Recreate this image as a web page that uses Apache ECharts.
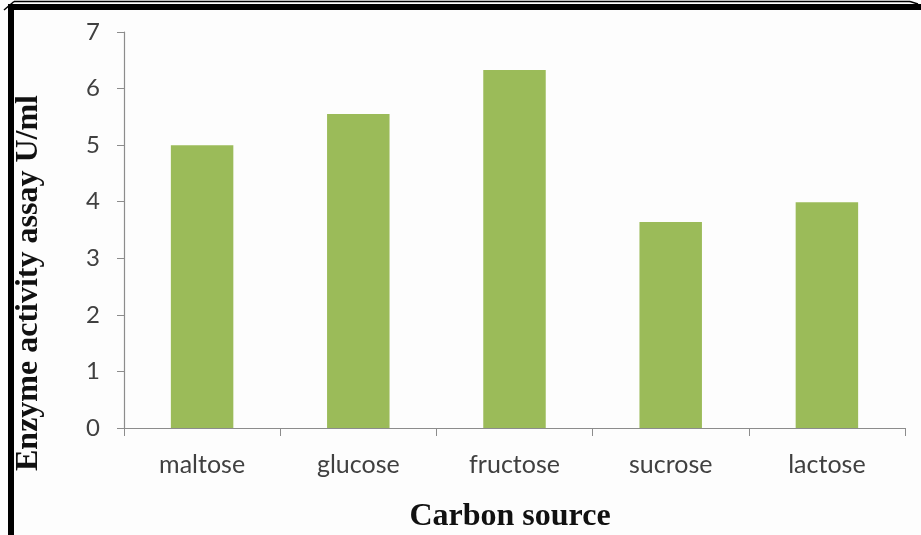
<!DOCTYPE html>
<html>
<head>
<meta charset="utf-8">
<style>html,body{margin:0;padding:0;background:#fff}#c{width:921px;height:535px}</style>
<script src="https://cdn.jsdelivr.net/npm/echarts@6/dist/echarts.min.js"></script>
</head>
<body>
<div id="c"></div>
<script>
const categories = ['maltose', 'glucose', 'fructose', 'sucrose', 'lactose'];
const activity = [5.0, 5.55, 6.33, 3.64, 3.99];
const yTicks = [0, 1, 2, 3, 4, 5, 6, 7];
const xTitle = 'Carbon source';
const yTitle = 'Enzyme activity assay U/ml';

const chart = echarts.init(document.getElementById('c'));
chart.setOption({
  animation: false,
  backgroundColor: '#fdfdfd',
  grid: { left: 124, right: 16, top: 32, bottom: 107, outerBoundsMode: 'none', containLabel: false },
  xAxis: {
    type: 'category',
    data: categories,
    axisLine: { lineStyle: { color: '#8c8c8c', width: 1.2 } },
    axisTick: { show: true, length: 8, alignWithLabel: false, lineStyle: { color: '#8c8c8c' } },
    axisLabel: { margin: 24, fontFamily: 'Lato', fontSize: 25, color: '#404040' }
  },
  yAxis: {
    type: 'value',
    min: yTicks[0], max: yTicks[yTicks.length - 1], interval: 1,
    axisLine: { show: true, lineStyle: { color: '#8c8c8c', width: 1.2 } },
    axisTick: { show: true, length: 7, lineStyle: { color: '#8c8c8c' } },
    splitLine: { show: false },
    axisLabel: { margin: 24, fontFamily: 'Lato', fontSize: 24, color: '#404040' }
  },
  series: [{
    type: 'bar',
    data: activity,
    barWidth: '40%',
    itemStyle: { color: '#9bbb59' }
  }],
  graphic: [
    { type: 'text', x: 29, y: 283, rotation: Math.PI / 2,
      style: { text: yTitle, font: 'bold 32px "Liberation Serif"', fill: '#111', align: 'center', verticalAlign: 'middle' } },
    { type: 'text', x: 510, y: 517,
      style: { text: xTitle, font: 'bold 32px "Liberation Serif"', fill: '#111', align: 'center', verticalAlign: 'middle' } },
    { type: 'line', shape: { x1: 14, y1: 1.5, x2: 910, y2: 1.5 }, style: { stroke: '#000', lineWidth: 1.5 } },
    { type: 'line', shape: { x1: 4, y1: 10, x2: 14, y2: 1.5 }, style: { stroke: '#000', lineWidth: 1.5 } },
    { type: 'line', shape: { x1: 910, y1: 1.5, x2: 918, y2: 4 }, style: { stroke: '#000', lineWidth: 1.5 } },
    { type: 'rect', shape: { x: 8, y: 4, width: 913, height: 6 }, style: { fill: '#000' } },
    { type: 'rect', shape: { x: 8, y: 4, width: 6, height: 531 }, style: { fill: '#000' } }
  ]
});
</script>
</body>
</html>
